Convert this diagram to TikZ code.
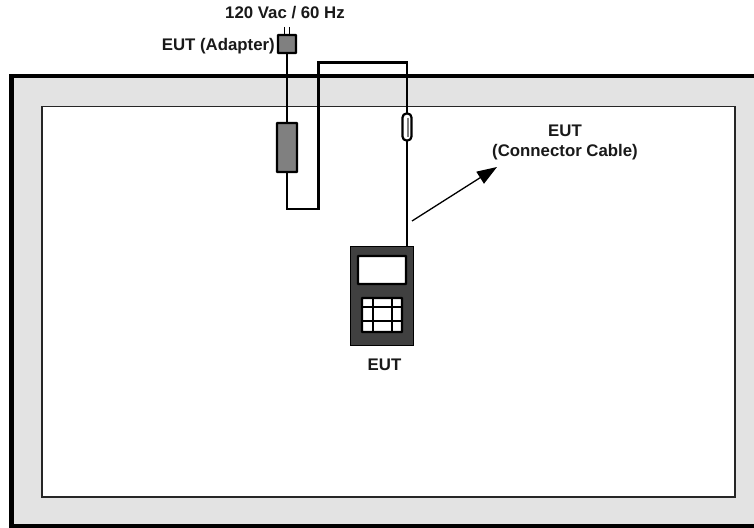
\documentclass[tikz,border=0pt]{standalone}
\usepackage{fontspec}
\setmainfont{Liberation Sans}
\usepackage{xcolor}
\usetikzlibrary{arrows.meta,positioning,calc}
\definecolor{wallgray}{RGB}{227,227,227}
\definecolor{blockgray}{RGB}{128,128,128}
\definecolor{casegray}{RGB}{64,64,64}

\begin{document}
\begin{tikzpicture}[x=1pt,y=-1pt,
  box/.style={draw, line width=2.2pt, inner sep=0pt, outer sep=0pt, rounded corners=0.5pt},
  lbl/.style={font=\fontsize{16.8}{20}\selectfont\bfseries, align=center, inner sep=0pt, text=black!90},
  wire/.style={line width=2.5pt}
]
\useasboundingbox (0,0) rectangle (754,527);
\clip (0,0) rectangle (754,527);
% chamber
\draw[line width=4.4pt, fill=wallgray] (11.5,76) rectangle (770,526.5);
\node[draw=black!85, line width=1.3pt, fill=white, inner sep=0pt, outer sep=0pt,
  minimum width=693pt, minimum height=390.5pt] (room) at (388.5,301.75) {};
% adapter and cable
\node[box, fill=blockgray, minimum width=18pt, minimum height=18pt] (plug) at (287,44) {};
\node[box, fill=blockgray, minimum width=20pt, minimum height=49pt] (adapter) at (287,147.5) {};
\node[box, fill=white, minimum width=9pt, minimum height=27pt, rounded corners=4pt] (fuse) at (407,127) {};
\node[draw, line width=1pt, fill=casegray, inner sep=0pt, outer sep=0pt,
  minimum width=63pt, minimum height=99pt] (device) at (381.5,295.5) {};
\node[box, fill=white, minimum width=48pt, minimum height=28pt] (screen) at (382,270) {};
\node[box, fill=white, minimum width=40pt, minimum height=34pt] (keypad) at (382,315) {};
\coordinate (prongl) at (284.5,27);
\coordinate (prongr) at (289.5,27);
\coordinate (devtop) at (407,245.5);
\coordinate (from) at (412,221);
\coordinate (to) at (497,167);
\draw[line width=1.8pt] (prongl) -- (prongl |- plug.north);
\draw[line width=1.8pt] (prongr) -- (prongr |- plug.north);
\draw[wire] (plug.south) -- (adapter.north);
\draw[wire] (adapter.south) |- (318.5,209) |- (407,62.5) -- (fuse.north);
\draw[wire] (fuse.south) -- (devtop);
\draw[line width=2pt, blockgray] ($(fuse.north)+(1.2,4)$) -- ($(fuse.south)+(1.2,-4)$);
% keypad grid
\draw[line width=1.9pt] (372.7,298) -- (372.7,332);
\draw[line width=1.9pt] (392.3,298) -- (392.3,332);
\draw[line width=1.9pt] (362,307) -- (402,307);
\draw[line width=1.9pt] (362,321) -- (402,321);
% pointer
\draw[-{Triangle[length=20pt,width=14pt]}, line width=1.3pt] (from) -- (to);
% labels
\node[lbl] (mains) at (285,13) {120 Vac / 60 Hz};
\node[lbl, anchor=east] (adlabel) at (275,46.5) {EUT (Adapter)};
\node[lbl] (cablabel) at (565,142) {EUT\\(Connector Cable)};
\node[lbl] (devlabel) at (384.5,365) {EUT};
\end{tikzpicture}
\end{document}
